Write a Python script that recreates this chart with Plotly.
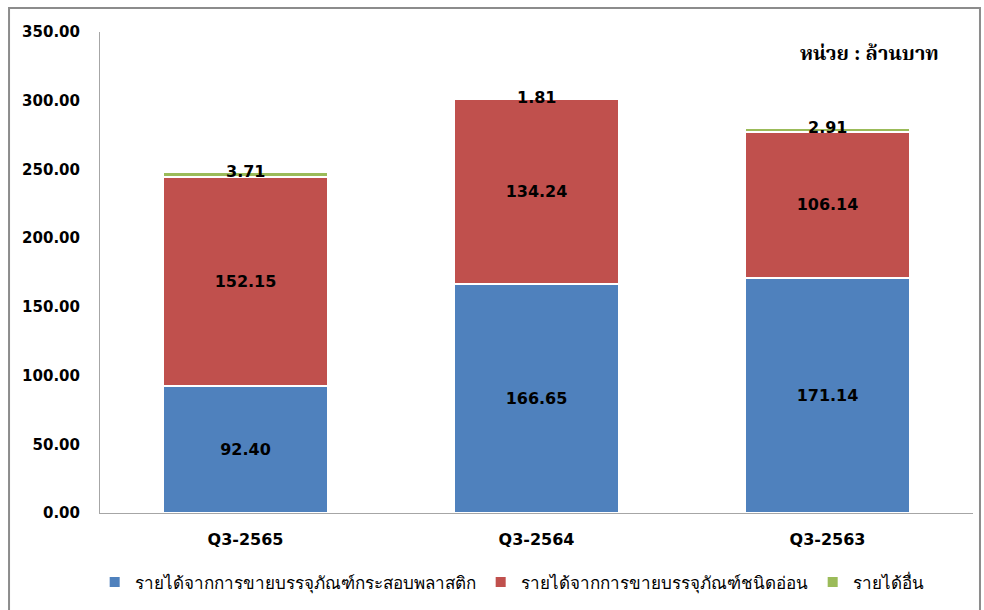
import plotly.graph_objects as go

categories = ["Q3-2565", "Q3-2564", "Q3-2563"]
plastic = [92.40, 166.65, 171.14]
flexible = [152.15, 134.24, 106.14]
other = [3.71, 1.81, 2.91]
series_names = [
    "รายได้จากการขายบรรจุภัณฑ์กระสอบพลาสติก",
    "รายได้จากการขายบรรจุภัณฑ์ชนิดอ่อน",
    "รายได้อื่น",
]
colors = ["#4F81BD", "#C0504D", "#9BBB59"]
y_ticks = [0, 50, 100, 150, 200, 250, 300, 350]

fig = go.Figure()
label_font = dict(family="Tahoma, DejaVu Sans, sans-serif", size=16, color="black")
for vals, name, col, show in [(plastic, series_names[0], colors[0], True),
                               (flexible, series_names[1], colors[1], True),
                               (other, series_names[2], colors[2], False)]:
    fig.add_trace(go.Bar(
        x=categories, y=vals, name=name,
        marker=dict(color=col, line=dict(color="white", width=2)),
        text=[f"<b>{v:.2f}</b>" for v in vals] if show else None,
        textposition="inside", insidetextanchor="middle",
        textfont=label_font, constraintext="none",
        hoverinfo="skip",
    ))

totals = [a + b + c for a, b, c in zip(plastic, flexible, other)]
for cat, tot, v in zip(categories, totals, other):
    fig.add_annotation(x=cat, y=tot, text=f"<b>{v:.2f}</b>", showarrow=False,
                       font=label_font, xref="x", yref="y", yshift=0)

fig.add_annotation(x=1.0, y=1.0, xref="paper", yref="paper", xanchor="right", yanchor="top",
                   xshift=-32, yshift=-8,
                   text="<b>หน่วย : ล้านบาท</b>", showarrow=False,
                   font=dict(family="Liberation Serif, Noto Serif Thai, serif", size=20, color="black"))

fig.add_shape(type="rect", xref="paper", yref="paper",
              x0=-0.1042, x1=1.008, y0=-0.25, y1=1.0499,
              line=dict(color="#8C8C8C", width=2), fillcolor="rgba(0,0,0,0)", layer="below")

fig.update_layout(
    barmode="stack",
    bargap=0.43,
    width=984, height=610,
    margin=dict(l=100, r=11, t=32, b=97, autoexpand=False),
    paper_bgcolor="white", plot_bgcolor="white",
    font=dict(family="Tahoma, DejaVu Sans, sans-serif", color="black"),
    legend=dict(orientation="h", x=0.52, xanchor="center", yref="container", y=0.045, yanchor="middle",
                xref="container",
                font=dict(size=17, family="Tahoma, Noto Sans, sans-serif", color="black"),
                traceorder="normal", itemwidth=30, tracegroupgap=0),
    showlegend=True,
    xaxis=dict(showline=True, linecolor="#A6A6A6", linewidth=1, ticks="",
               tickfont=dict(size=16, family="Tahoma, DejaVu Sans, sans-serif"),
               tickprefix="<b>", ticksuffix="</b>", ticklabelstandoff=12),
    yaxis=dict(range=[0, 350], tickvals=y_ticks,
               ticktext=[f"<b>{t:.2f}</b>" for t in y_ticks],
               showgrid=False, zeroline=False, showline=True, linecolor="#A6A6A6", linewidth=1,
               ticks="", ticklabelstandoff=16,
               tickfont=dict(size=15, family="Tahoma, DejaVu Sans, sans-serif")),
)

fig.write_html("out.html")
